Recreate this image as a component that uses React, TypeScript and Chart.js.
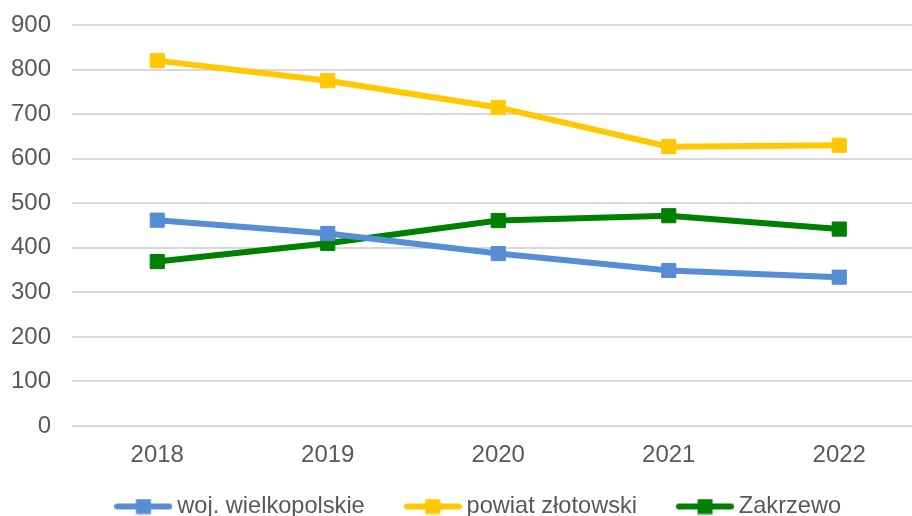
import React, { useEffect, useRef } from "react";
import { Chart, registerables } from "chart.js";

Chart.register(...registerables);

const years = ["2018", "2019", "2020", "2021", "2022"];
const seriesNames = ["woj. wielkopolskie", "powiat złotowski", "Zakrzewo"];
const wojValues = [462, 432, 387, 349, 334];
const powiatValues = [820, 775, 715, 627, 630];
const zakrzewoValues = [369, 410, 461, 472, 442];
const yMin = 0;
const yMax = 900;
const yStep = 100;
const seriesColors = ["#558ED5", "#FFC800", "#008000"];

const FONT = "'Liberation Sans', Arial, sans-serif";
const TEXT = "#595959";
const LEGEND_FONT = 23.6;
const LEGEND_PAD = 46;

function legendIcon(color: string): HTMLCanvasElement {
  const c = document.createElement("canvas");
  c.width = 58;
  c.height = 16;
  const ctx = c.getContext("2d")!;
  ctx.strokeStyle = color;
  ctx.lineWidth = 6;
  ctx.lineCap = "round";
  ctx.beginPath();
  ctx.moveTo(3, 8);
  ctx.lineTo(55, 8);
  ctx.stroke();
  ctx.fillStyle = color;
  ctx.fillRect(21.5, 0.5, 15, 15);
  return c;
}

export default function App() {
  const ref = useRef<HTMLCanvasElement | null>(null);

  useEffect(() => {
    const canvas = ref.current;
    if (!canvas) return;
    const values = [wojValues, powiatValues, zakrzewoValues];
    const icons = seriesColors.map(legendIcon);
    const placeLegend = {
      id: "placeLegend",
      afterLayout(ch: any) {
        const lg = ch.legend;
        if (!lg) return;
        const dx = 19;
        lg.left += dx;
        lg.right += dx;
        lg.top = 506.5 - LEGEND_PAD - LEGEND_FONT / 2;
        lg.height = 120;
        lg.bottom = lg.top + 120;
      },
    };
    const chart = new Chart(canvas, {
      type: "line",
      plugins: [placeLegend],
      data: {
        labels: years,
        datasets: seriesNames.map((name, i) => ({
          label: name,
          data: values[i],
          borderColor: seriesColors[i],
          backgroundColor: seriesColors[i],
          borderWidth: 6,
          pointStyle: "rect",
          pointRadius: 10,
          pointHoverRadius: 10,
          pointBorderWidth: 1,
          pointBackgroundColor: seriesColors[i],
          pointBorderColor: seriesColors[i],
          tension: 0,
          fill: false,
        })),
      },
      options: {
        responsive: false,
        animation: false,
        devicePixelRatio: 1,
        layout: { padding: { top: 25, right: 29.5, left: 0, bottom: 6 } },
        scales: {
          x: {
            offset: true,
            grid: { display: false, drawTicks: false },
            border: { display: false },
            ticks: { color: TEXT, font: { family: FONT, size: 24 }, padding: 15 },
            afterFit: (scale: any) => {
              scale.height = 44;
            },
          },
          y: {
            min: yMin,
            max: yMax,
            grid: { color: "#d9d9d9", lineWidth: 2, drawTicks: false },
            border: { display: false },
            ticks: {
              stepSize: yStep,
              color: TEXT,
              font: { family: FONT, size: 24 },
              padding: 21,
            },
            afterFit: (scale: any) => {
              scale.width = 72;
              scale.paddingTop = 0;
              scale.paddingBottom = 0;
            },
          },
        },
        plugins: {
          tooltip: { enabled: false },
          legend: {
            position: "bottom",
            maxHeight: 64,
            labels: {
              color: TEXT,
              font: { family: FONT, size: LEGEND_FONT },
              usePointStyle: true,
              pointStyleWidth: 44,
              padding: LEGEND_PAD,
              generateLabels: (ch: any) => {
                const items = Chart.defaults.plugins.legend.labels.generateLabels(ch);
                return items.map((it: any, i: number) => ({ ...it, pointStyle: icons[i] }));
              },
            },
          },
        },
      } as any,
    });
    return () => chart.destroy();
  }, []);

  return (
    <div
      style={{
        position: "fixed",
        left: 0,
        top: 0,
        width: 912,
        height: 516,
        overflow: "hidden",
        background: "#fff",
      }}
    >
      <canvas ref={ref} width={954} height={540} style={{ width: 954, height: 540, display: "block" }} />
    </div>
  );
}
